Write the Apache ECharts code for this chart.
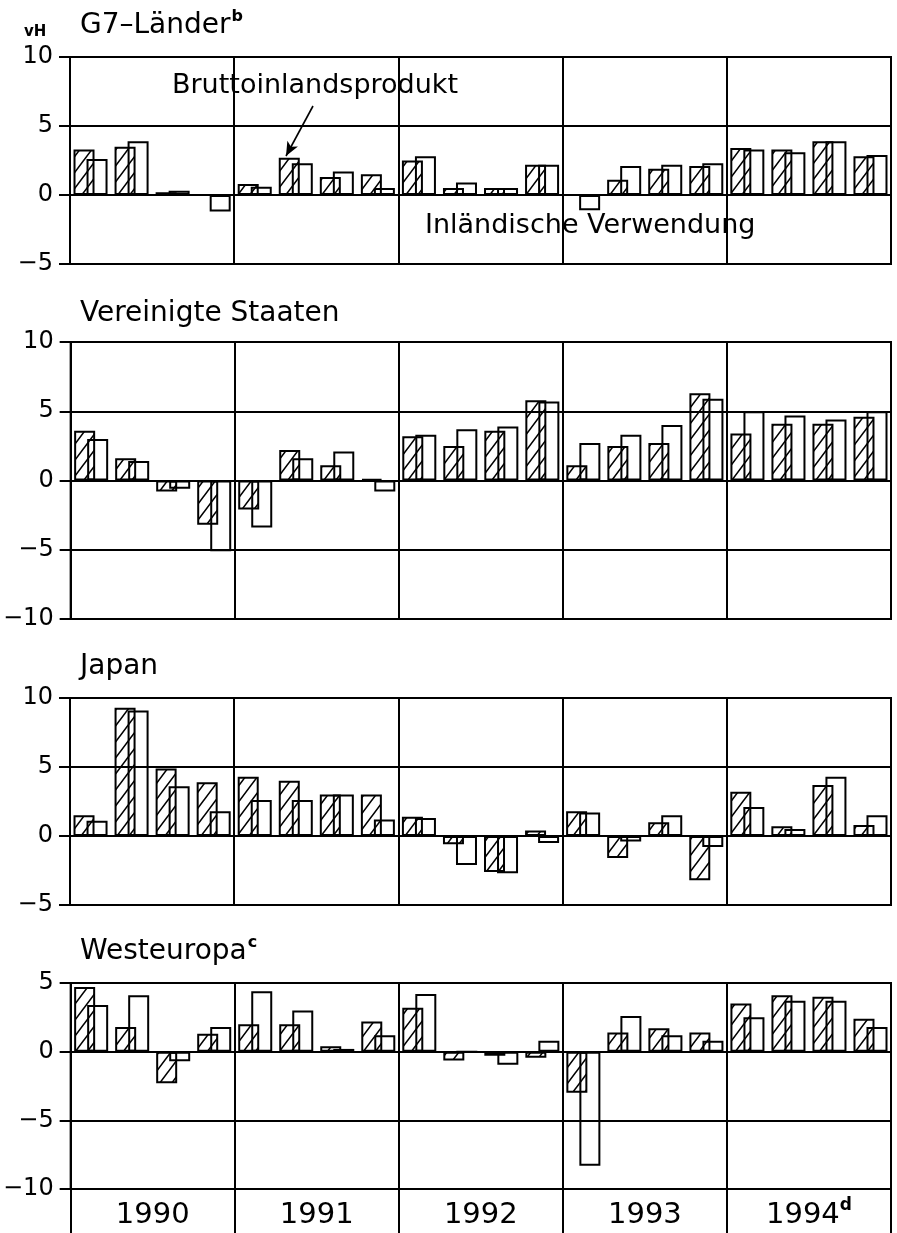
<!DOCTYPE html>
<html>
<head>
<meta charset="utf-8">
<script src="https://cdn.jsdelivr.net/npm/echarts@6/dist/echarts.min.js"></script>
<style>
html,body{margin:0;padding:0;background:#fff;}
#c{width:897px;height:1233px;}
</style>
</head>
<body>
<div id="c"></div>
<script>
// ---- data ----
const quarters = ['1990 I','1990 II','1990 III','1990 IV','1991 I','1991 II','1991 III','1991 IV',
  '1992 I','1992 II','1992 III','1992 IV','1993 I','1993 II','1993 III','1993 IV',
  '1994 I','1994 II','1994 III','1994 IV'];
const years = ['1990','1991','1992','1993','1994'];
const yearSup = ['','','','','d'];
const seriesNames = ['Bruttoinlandsprodukt','Inländische Verwendung'];
const panelTitles = ['G7–Länder','Vereinigte Staaten','Japan','Westeuropa'];
const panelSup = ['b','','','c'];

const g7Bip = [3.3,3.5,0.2,0.0, 0.8,2.7,1.3,1.5, 2.5,0.5,0.5,2.2, 0.0,1.1,1.9,2.1, 3.4,3.3,3.9,2.8];
const g7Iv  = [2.6,3.9,0.3,-1.2, 0.6,2.3,1.7,0.5, 2.8,0.9,0.5,2.2, -1.1,2.1,2.2,2.3, 3.3,3.1,3.9,2.9];

const usBip = [3.6,1.6,-0.8,-3.2, -2.1,2.2,1.1,0.1, 3.2,2.5,3.6,5.8, 1.1,2.5,2.7,6.3, 3.4,4.1,4.1,4.6];
const usIv  = [3.0,1.4,-0.6,-5.1, -3.4,1.6,2.1,-0.8, 3.3,3.7,3.9,5.7, 2.7,3.3,4.0,5.9, 5.0,4.7,4.4,5.0];

const jpBip = [1.5,9.3,4.9,3.9, 4.3,4.0,3.0,3.0, 1.4,-0.6,-2.6,0.4, 1.8,-1.6,1.0,-3.2, 3.2,0.7,3.7,0.8];
const jpIv  = [1.1,9.1,3.6,1.8, 2.6,2.6,3.0,1.2, 1.3,-2.1,-2.7,-0.5, 1.7,-0.4,1.5,-0.8, 2.1,0.5,4.3,1.5];

const weBip = [4.7,1.8,-2.3,1.3, 2.0,2.0,0.4,2.2, 3.2,-0.65,-0.3,-0.45, -3.0,1.4,1.7,1.4, 3.5,4.1,4.0,2.4];
const weIv  = [3.4,4.1,-0.7,1.8, 4.4,3.0,0.2,1.2, 4.2,0.0,-0.95,0.8, -8.3,2.6,1.2,0.8, 2.5,3.7,3.7,1.8];

const yRanges = [[-5,10],[-10,10],[-5,10],[-10,5]];
const bipData = [g7Bip, usBip, jpBip, weBip];
const ivData  = [g7Iv, usIv, jpIv, weIv];

// ---- layout ----
const gridLeft = 70, gridWidth = 821;
const gridTops = [57, 342, 698, 983];
const gridHeights = [207, 277, 207, 206];
const titleTops = [9, 297, 650, 935];
const FONT = '"DejaVu Sans", sans-serif';

// hatch pattern
function hatch() {
  const w = 12, h = 16;
  const c = document.createElement('canvas');
  c.width = w; c.height = h;
  const ctx = c.getContext('2d');
  ctx.strokeStyle = '#000';
  ctx.lineWidth = 1.6;
  ctx.beginPath();
  ctx.moveTo(-w, 2*h); ctx.lineTo(2*w, -h);
  ctx.moveTo(-2*w, 2*h); ctx.lineTo(w, -h);
  ctx.moveTo(0, 2*h); ctx.lineTo(3*w, -h);
  ctx.stroke();
  return c;
}
const hatchImg = hatch();

const grids = [], xAxes = [], yAxes = [], series = [], titles = [];
for (let i = 0; i < 4; i++) {
  grids.push({left: gridLeft, width: gridWidth, top: gridTops[i], height: gridHeights[i],
    show: true, borderColor: '#000', borderWidth: 2, backgroundColor: 'transparent'});
  xAxes.push({type: 'category', gridIndex: i, data: quarters, boundaryGap: true,
    axisLine: {show: false}, axisTick: {show: false}, axisLabel: {show: false},
    splitLine: {show: true, interval: 3, lineStyle: {color: '#000', width: 2}}});
  yAxes.push({type: 'value', gridIndex: i, min: yRanges[i][0], max: yRanges[i][1], interval: 5,
    axisLine: {show: true, onZero: false, lineStyle: {color: '#000', width: 2}},
    axisTick: {show: true, inside: false, length: 11, lineStyle: {color: '#000', width: 2}},
    axisLabel: {show: true, margin: 17, color: '#000', fontSize: 24, fontFamily: FONT,
      formatter: v => (v < 0 ? '\u2212' + Math.abs(v) : String(v))},
    splitLine: {show: true, lineStyle: {color: '#000', width: 2}}});
  series.push({name: seriesNames[0], type: 'bar', xAxisIndex: i, yAxisIndex: i,
    data: bipData[i], barWidth: 21, barGap: '-38%',
    itemStyle: {color: {image: hatchImg, repeat: 'repeat'}, borderColor: '#000', borderWidth: 2},
    emphasis: {disabled: true}, animation: false, z: 3});
  series.push({name: seriesNames[1], type: 'bar', xAxisIndex: i, yAxisIndex: i,
    data: ivData[i], barWidth: 21, barGap: '-38%',
    itemStyle: {color: 'rgba(255,255,255,0)', borderColor: '#000', borderWidth: 2},
    emphasis: {disabled: true}, animation: false, z: 3});
  titles.push({text: '{a|' + panelTitles[i] + '}' + (panelSup[i] ? '{s|' + panelSup[i] + '}' : ''),
    left: 80, top: titleTops[i], padding: 0,
    textStyle: {rich: {
      a: {fontSize: 28, fontFamily: FONT, color: '#000', fontWeight: 'normal', lineHeight: 34},
      s: {fontSize: 16, fontFamily: FONT, color: '#000', fontWeight: 'bold', verticalAlign: 'top', lineHeight: 34, padding: [0,0,14,1]}
    }}});
}
titles.push({text: 'vH', left: 24, top: 25, padding: 0,
  textStyle: {fontSize: 15, fontWeight: 'bold', fontFamily: FONT, color: '#000'}});

// year axis at the bottom of the last panel
xAxes.push({type: 'category', gridIndex: 3, data: years, position: 'bottom', boundaryGap: true,
  axisLine: {show: false},
  axisTick: {show: true, interval: 0, inside: false, length: 46, lineStyle: {color: '#000', width: 2}},
  axisLabel: {show: true, interval: 0, margin: 8, color: '#000', fontFamily: FONT,
    formatter: (v, idx) => '{y|' + v + '}' + (yearSup[idx] ? '{s|' + yearSup[idx] + '}' : ''),
    rich: {
      y: {fontSize: 29, fontFamily: FONT, color: '#000', lineHeight: 36},
      s: {fontSize: 17, fontFamily: FONT, color: '#000', fontWeight: 'bold', verticalAlign: 'top', lineHeight: 36, padding: [0,0,16,0]}
    }},
  splitLine: {show: false}});

// annotation arrow on G7 panel
series[0].markLine = {silent: true, symbol: ['none', 'arrow'], symbolSize: [9, 14], animation: false,
  label: {show: false},
  lineStyle: {color: '#000', width: 1.6, type: 'solid'},
  data: [[{x: 313, y: 106}, {x: 286, y: 156}]]};

const chart = echarts.init(document.getElementById('c'), null, {renderer: 'canvas'});
chart.setOption({
  backgroundColor: '#fff',
  animation: false,
  title: titles,
  grid: grids,
  xAxis: xAxes,
  yAxis: yAxes,
  series: series,
  graphic: [
    {type: 'text', left: 172, top: 72, z: 10,
      style: {text: 'Bruttoinlandsprodukt', fontSize: 27, fontFamily: FONT, fill: '#000'}},
    {type: 'text', left: 425, top: 212, z: 10,
      style: {text: 'Inländische Verwendung', fontSize: 27, fontFamily: FONT, fill: '#000'}}
  ]
});
</script>
</body>
</html>
